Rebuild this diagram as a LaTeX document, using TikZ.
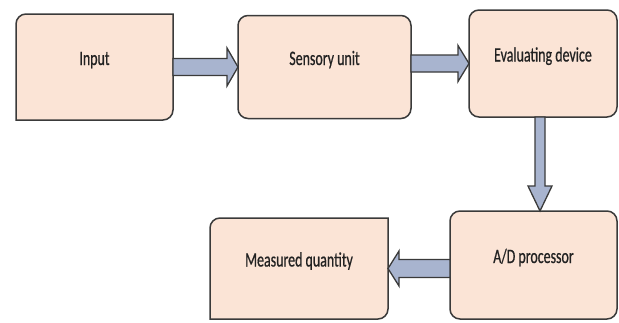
\documentclass[tikz,border=0pt]{standalone}
\usepackage{fontspec}
\setmainfont{Carlito}[FakeStretch=0.68, FakeBold=0.6]
\usetikzlibrary{calc,backgrounds}
\definecolor{boxfill}{HTML}{FBE4D6}
\definecolor{boxline}{HTML}{3A3A3A}
\definecolor{flowfill}{HTML}{A8B4CF}
\definecolor{textgray}{HTML}{222222}

\tikzset{
  block/.style={draw=boxline, fill=boxfill, line width=1.5pt, rounded corners=10pt,
    inner sep=0pt, outer sep=0pt, text=textgray,
    font=\fontsize{20.5}{24}\selectfont, text height=14pt, text depth=18pt},
  flat/.style={block, draw=none, fill=none},
  diagline/.style={draw=boxline, fill=boxfill, line width=1.5pt},
  flow/.style={draw=boxline, fill=flowfill, line width=1.3pt, line join=miter}
}

\begin{document}
\begin{tikzpicture}[x=1pt, y=1pt]
\useasboundingbox (0,0) rectangle (619,-322);
% the five boxes
\node[flat, minimum width=157pt, minimum height=106pt] (input) at (94.5,-67) {Input};
\node[block, minimum width=173pt, minimum height=103pt] (sensory) at (324.5,-67) {Sensory unit};
\node[block, minimum width=148pt, minimum height=107pt] (evaluating) at (543,-63.5) {Evaluating device};
\node[block, minimum width=167pt, minimum height=108pt] (adproc) at (533.5,-265) {A/D processor};
\node[flat, minimum width=178pt, minimum height=101pt] (measured) at (299,-268.5) {Measured quantity};
% input and output boxes: only two corners rounded
\begin{scope}[on background layer]
\foreach \boxname in {input,measured}
  \filldraw[diagline] (\boxname.south west) -- ($(\boxname.north west)+(0,-10)$)
    arc[start angle=180, end angle=90, radius=10pt] -- (\boxname.north east)
    -- ($(\boxname.south east)+(0,10)$) arc[start angle=0, end angle=-90, radius=10pt] -- cycle;
\end{scope}
% block arrows
\draw[flow] ($(input.east)+(0,8.5)$) -- ($(sensory.west)+(-11,8.5)$) -- ++(0,10.5) -- (sensory.west)
  -- ++(-11,-19) -- ++(0,10.5) -- ($(input.east)+(0,-8.5)$) -- cycle;
\draw[flow] ($(sensory.east |- evaluating.west)+(0,8.5)$) -- ($(evaluating.west)+(-11,8.5)$) -- ++(0,9.5)
  -- (evaluating.west) -- ++(-11,-18) -- ++(0,9.5) -- ($(sensory.east |- evaluating.west)+(0,-8.5)$) -- cycle;
\coordinate (drop) at ($(evaluating.south)+(-3,0)$);
\draw[flow] ($(drop)+(-5,0)$) -- ($(drop |- adproc.north)+(-5,25)$) -- ++(-7,0) -- (drop |- adproc.north)
  -- ++(12,25) -- ++(-7,0) -- ($(drop)+(5,0)$) -- cycle;
\draw[flow] ($(adproc.west |- measured.east)+(0,9)$) -- ($(measured.east)+(11,9)$) -- ++(0,8.5)
  -- (measured.east) -- ++(11,-17.5) -- ++(0,8.5) -- ($(adproc.west |- measured.east)+(0,-9)$) -- cycle;
\end{tikzpicture}
\end{document}
